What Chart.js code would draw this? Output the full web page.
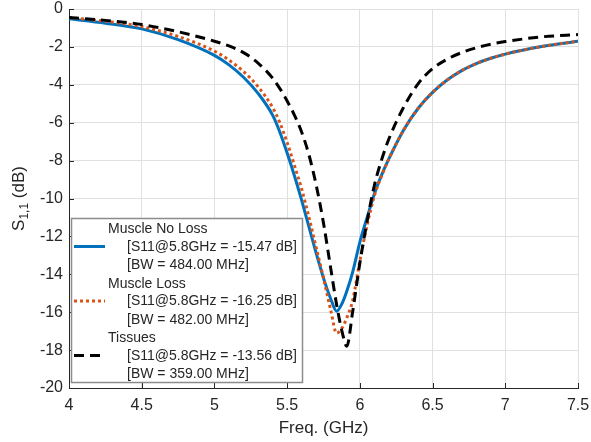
<!DOCTYPE html>
<html>
<head>
<meta charset="utf-8">
<script src="https://cdn.jsdelivr.net/npm/chart.js@4/dist/chart.umd.min.js"></script>
<style>
  html, body { margin: 0; padding: 0; background: #fff; }
  #wrap { width: 591px; height: 442px; }
</style>
</head>
<body>
<div id="wrap"><canvas id="s11-chart" width="591" height="442"></canvas></div>
<script>
// S11 vs frequency, three phantom cases
const freq = [4.0, 4.25, 4.5, 4.75, 5.0, 5.1, 5.2, 5.3, 5.4, 5.45, 5.5, 5.55, 5.6, 5.65, 5.7, 5.75, 5.8,
              5.84, 5.88, 5.91, 5.95, 6.0, 6.05, 6.1, 6.15, 6.2, 6.3, 6.4, 6.5, 6.6, 6.7, 6.8, 6.9, 7.0, 7.25, 7.5];
const muscleNoLoss = [-0.52, -0.75, -1.05, -1.62, -2.45, -2.95, -3.6, -4.45, -5.6, -6.5, -7.6, -8.8, -10.1, -11.5, -12.9, -14.2, -15.3,
                      -15.95, -15.5, -14.9, -13.9, -12.3, -11.0, -9.75, -8.75, -7.9, -6.4, -5.25, -4.4, -3.75, -3.25, -2.88, -2.6, -2.38, -1.98, -1.70];
const muscleLoss = [-0.45, -0.65, -0.93, -1.45, -2.22, -2.7, -3.3, -4.1, -5.2, -6.0, -7.05, -8.25, -9.5, -11.0, -12.6, -14.2, -15.9,
                    -17.1, -16.8, -16.3, -15.4, -13.3, -11.4, -9.85, -8.8, -7.9, -6.4, -5.25, -4.4, -3.75, -3.25, -2.88, -2.6, -2.38, -1.98, -1.70];
const tissues = [-0.45, -0.6, -0.82, -1.2, -1.7, -1.95, -2.3, -2.85, -3.65, -4.2, -4.85, -5.6, -6.5, -7.7, -9.3, -11.3, -13.7,
                 -15.6, -17.1, -17.8, -16.0, -13.4, -11.2, -9.3, -7.95, -6.85, -5.2, -3.95, -3.15, -2.65, -2.3, -2.05, -1.86, -1.72, -1.47, -1.35];

const xTicks = [4, 4.5, 5, 5.5, 6, 6.5, 7, 7.5];
const yTicks = [0, -2, -4, -6, -8, -10, -12, -14, -16, -18, -20];

const seriesNames = ['Muscle No Loss', 'Muscle Loss', 'Tissues'];
const s11Notes = ['[S11@5.8GHz = -15.47 dB]', '[S11@5.8GHz = -16.25 dB]', '[S11@5.8GHz = -13.56 dB]'];
const bwNotes = ['[BW = 484.00 MHz]', '[BW = 482.00 MHz]', '[BW = 359.00 MHz]'];

const FONT = '"Liberation Sans", Arial, Helvetica, sans-serif';
const AXIS_COLOR = '#262626';

const toPoints = ys => freq.map((f, i) => ({x: f, y: ys[i]}));

// inward tick marks, axis titles (with subscript), boxed legend
const decorations = {
    id: 'decorations',
    beforeDatasetsDraw(chart) {
        const {ctx, chartArea: a, scales: {x, y}} = chart;
        ctx.save();
        ctx.strokeStyle = AXIS_COLOR;
        ctx.lineWidth = 1;
        ctx.beginPath();
        xTicks.forEach(v => {
            const px = Math.round(x.getPixelForValue(v)) + 0.5;
            ctx.moveTo(px, a.bottom);
            ctx.lineTo(px, a.bottom - 5);
        });
        yTicks.forEach(v => {
            const py = Math.round(y.getPixelForValue(v)) + 0.5;
            ctx.moveTo(a.left, py);
            ctx.lineTo(a.left + 5, py);
        });
        ctx.stroke();
        ctx.restore();
    },
    afterDraw(chart) {
        const {ctx, chartArea: a} = chart;
        ctx.save();
        ctx.fillStyle = AXIS_COLOR;

        // x title
        ctx.font = '17px ' + FONT;
        ctx.textAlign = 'center';
        ctx.textBaseline = 'middle';
        ctx.fillText('Freq. (GHz)', (a.left + a.right) / 2, 428);

        // y title: S_{1,1} (dB), rotated
        ctx.translate(19, (a.top + a.bottom) / 2);
        ctx.rotate(-Math.PI / 2);
        ctx.textAlign = 'left';
        ctx.textBaseline = 'middle';
        const big = '17px ' + FONT, small = '12px ' + FONT;
        ctx.font = big;
        const wS = ctx.measureText('S').width;
        const wTail = ctx.measureText(' (dB)').width;
        ctx.font = small;
        const wSub = ctx.measureText('1,1').width;
        let cx = -(wS + wSub + wTail) / 2;
        ctx.font = big;
        ctx.fillText('S', cx, 0);
        cx += wS;
        ctx.font = small;
        ctx.fillText('1,1', cx, 6);
        cx += wSub;
        ctx.font = big;
        ctx.fillText(' (dB)', cx, 0);
        ctx.restore();

        // legend box
        ctx.save();
        ctx.fillStyle = '#fff';
        ctx.fillRect(71, 218, 232, 165);
        ctx.strokeStyle = '#8c8c8c';
        ctx.lineWidth = 1.5;
        ctx.strokeRect(71.5, 218.5, 231, 164);
        ctx.font = '14px ' + FONT;
        ctx.textBaseline = 'middle';
        ctx.textAlign = 'left';
        chart.data.datasets.forEach((ds, i) => {
            const top = 229.5 + i * 54.5;
            ctx.fillStyle = AXIS_COLOR;
            ctx.fillText(seriesNames[i], 108, top);
            ctx.fillText(s11Notes[i], 127, top + 17.5);
            ctx.fillText(bwNotes[i], 127, top + 35.8);
            ctx.strokeStyle = ds.borderColor;
            ctx.lineWidth = ds.borderWidth;
            ctx.lineCap = 'butt';
            ctx.setLineDash(ds.borderDash || []);
            ctx.beginPath();
            ctx.moveTo(74, top + 17);
            ctx.lineTo(105, top + 17);
            ctx.stroke();
            ctx.setLineDash([]);
        });
        ctx.restore();
    }
};

new Chart(document.getElementById('s11-chart'), {
    type: 'line',
    data: {
        datasets: [
            {
                label: seriesNames[0],
                data: toPoints(muscleNoLoss),
                borderColor: '#0072BD',
                borderWidth: 3,
                order: 3
            },
            {
                label: seriesNames[1],
                data: toPoints(muscleLoss),
                borderColor: '#D95319',
                borderWidth: 3,
                borderDash: [3, 3],
                order: 2
            },
            {
                label: seriesNames[2],
                data: toPoints(tissues),
                borderColor: '#000000',
                borderWidth: 3,
                borderDash: [10, 6],
                order: 1
            }
        ]
    },
    options: {
        responsive: false,
        animation: false,
        events: [],
        layout: { padding: { top: 9, right: 13, left: 0, bottom: 0 } },
        elements: {
            point: { radius: 0 },
            line: { cubicInterpolationMode: 'monotone', fill: false, borderCapStyle: 'butt' }
        },
        plugins: {
            legend: { display: false },
            tooltip: { enabled: false }
        },
        scales: {
            x: {
                type: 'linear',
                min: 4,
                max: 7.5,
                afterBuildTicks: s => { s.ticks = xTicks.map(v => ({value: v})); },
                afterFit: s => { s.height = 54; s.paddingLeft = 0; s.paddingRight = 0; },
                grid: { color: '#e0e0e0', drawTicks: false },
                border: { color: AXIS_COLOR, width: 1 },
                ticks: {
                    padding: 8,
                    color: AXIS_COLOR,
                    font: { family: FONT, size: 16 },
                    maxRotation: 0,
                    autoSkip: false,
                    callback: v => String(v)
                }
            },
            y: {
                min: -20,
                max: 0,
                afterBuildTicks: s => { s.ticks = yTicks.map(v => ({value: v})); },
                afterFit: s => { s.width = 69; s.paddingTop = 0; s.paddingBottom = 0; },
                grid: { color: '#e0e0e0', drawTicks: false },
                border: { color: AXIS_COLOR, width: 1 },
                ticks: {
                    padding: 6,
                    color: AXIS_COLOR,
                    font: { family: FONT, size: 16 },
                    autoSkip: false,
                    callback: v => String(v)
                }
            }
        }
    },
    plugins: [decorations]
});
</script>
</body>
</html>
